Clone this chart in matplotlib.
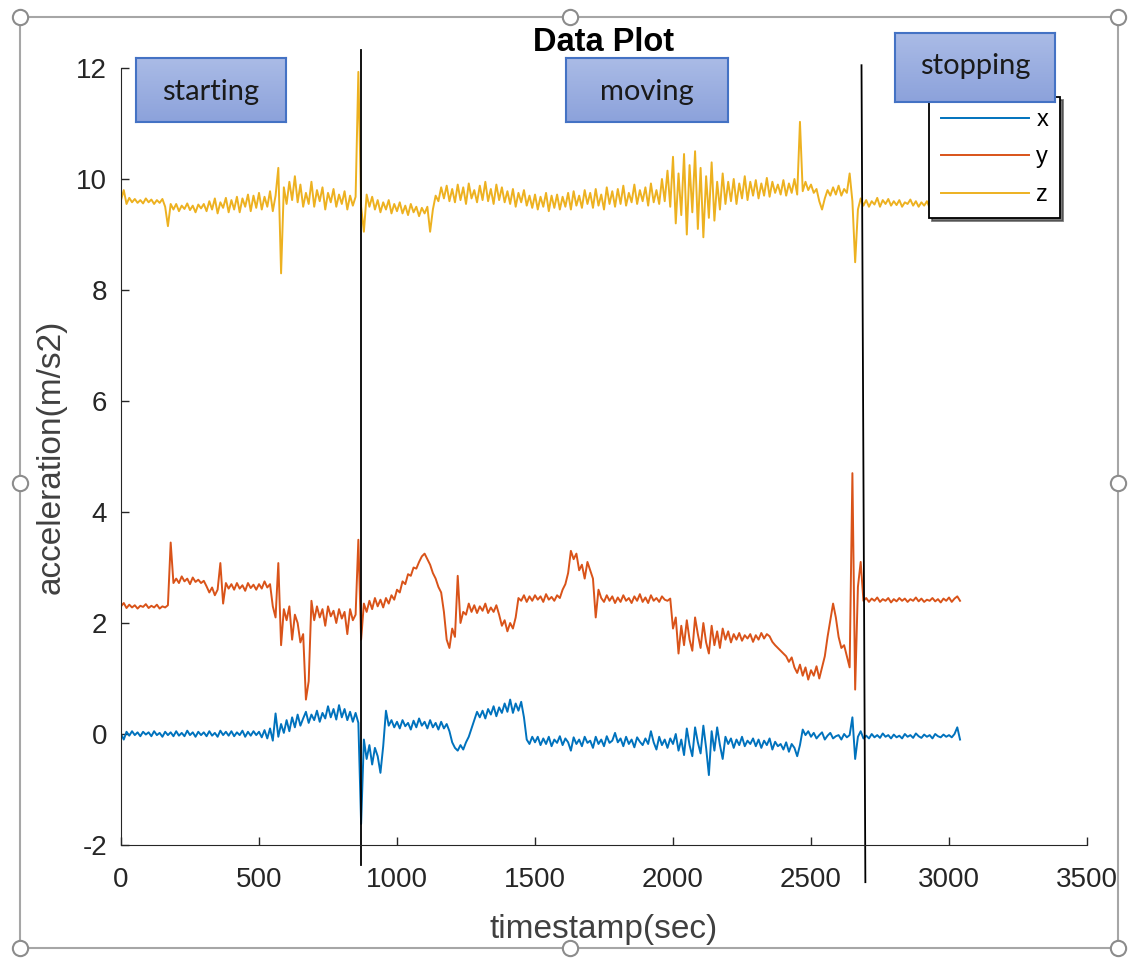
import numpy as np
import matplotlib
matplotlib.use("Agg")
import matplotlib.pyplot as plt
from matplotlib.lines import Line2D
from matplotlib.patches import Rectangle

plt.rcParams["font.family"] = ["Liberation Sans", "DejaVu Sans"]
plt.rcParams["axes.unicode_minus"] = False

# sampled every 10 s, one row = 100 s
acc_x = [0.00, -0.10, 0.04, -0.03, 0.05, -0.02, 0.03, -0.04, 0.04, -0.01,
         0.03, -0.04, 0.05, -0.02, 0.02, -0.05, 0.04, -0.02, 0.03, -0.04,
         0.05, -0.03, 0.02, -0.04, 0.06, -0.02, 0.03, -0.05, 0.04, -0.02,
         0.03, -0.04, 0.05, -0.03, 0.02, -0.05, 0.06, -0.02, 0.04, -0.03,
         0.05, -0.04, 0.03, -0.02, 0.06, -0.05, 0.04, -0.03, 0.05, -0.02,
         0.04, -0.06, 0.07, -0.08, 0.10, -0.12, 0.37, -0.05, 0.18, 0.02,
         0.25, 0.05, 0.30, 0.12, 0.35, 0.15, 0.28, 0.40, 0.20, 0.35,
         0.25, 0.42, 0.22, 0.38, 0.28, 0.50, 0.30, 0.45, 0.26, 0.52,
         0.30, 0.45, 0.25, 0.40, 0.22, 0.38, 0.20, -1.62, -0.10, -0.45,
         -0.20, -0.55, -0.25, -0.40, -0.70, -0.22, 0.42, 0.15, 0.25, 0.12,
         0.22, 0.10, 0.25, 0.14, 0.20, 0.08, 0.24, 0.12, 0.28, 0.15,
         0.22, 0.10, 0.25, 0.12, 0.20, 0.08, 0.22, 0.10, 0.18, 0.05,
         -0.15, -0.25, -0.30, -0.20, -0.28, -0.15, -0.05, 0.10, 0.25, 0.40,
         0.30, 0.42, 0.28, 0.45, 0.35, 0.50, 0.32, 0.48, 0.38, 0.55,
         0.40, 0.62, 0.38, 0.55, 0.42, 0.58, 0.30, -0.10, -0.18, -0.05,
         -0.15, -0.05, -0.20, -0.08, -0.18, -0.05, -0.22, -0.10, -0.16, -0.04,
         -0.20, -0.08, -0.15, -0.30, -0.06, -0.18, -0.10, -0.22, -0.05, -0.16,
         -0.12, -0.25, -0.05, -0.18, -0.10, -0.22, -0.04, -0.16, -0.12, 0.02,
         -0.15, -0.08, -0.22, -0.05, -0.18, -0.10, -0.24, -0.06, -0.14, -0.20,
         -0.08, -0.18, 0.05, -0.15, -0.28, -0.05, -0.20, -0.10, -0.25, -0.08,
         -0.18, 0.00, -0.30, -0.10, -0.38, 0.10, -0.20, -0.40, 0.12, -0.15,
         -0.35, 0.15, -0.25, -0.74, 0.05, -0.30, 0.12, -0.20, -0.45, -0.05,
         -0.18, -0.08, -0.25, -0.10, -0.20, -0.05, -0.22, -0.12, -0.18, -0.08,
         -0.22, -0.10, -0.25, -0.12, -0.20, -0.08, -0.28, -0.14, -0.22, -0.18,
         -0.28, -0.15, -0.32, -0.18, -0.25, -0.40, -0.20, 0.08, -0.02, 0.05,
         -0.05, 0.02, -0.08, -0.02, 0.03, -0.10, -0.03, 0.02, -0.08, -0.04,
         -0.02, -0.10, 0.00, -0.06, -0.02, 0.30, -0.45, -0.05, 0.05, -0.08,
         -0.03, -0.08, 0.00, -0.06, -0.02, -0.07, 0.01, -0.05, -0.02, -0.08,
         -0.01, -0.06, -0.03, -0.08, 0.00, -0.05, -0.02, -0.07, 0.01, -0.04,
         -0.07, -0.01, -0.05, -0.02, -0.08, 0.00, -0.04, -0.06, -0.01, -0.05,
         -0.02, -0.06, 0.00, 0.12, -0.10]

acc_y = [2.30, 2.36, 2.27, 2.33, 2.28, 2.32, 2.26, 2.31, 2.29, 2.34,
         2.27, 2.31, 2.28, 2.33, 2.26, 2.30, 2.28, 2.32, 3.45, 2.72,
         2.80, 2.72, 2.84, 2.75, 2.80, 2.70, 2.82, 2.74, 2.78, 2.72,
         2.76, 2.66, 2.55, 2.64, 2.50, 2.60, 3.08, 2.35, 2.72, 2.62,
         2.70, 2.60, 2.72, 2.62, 2.68, 2.58, 2.72, 2.63, 2.69, 2.60,
         2.70, 2.62, 2.75, 2.64, 2.70, 2.30, 2.10, 3.08, 1.60, 2.25,
         2.05, 2.30, 1.70, 2.15, 2.00, 1.65, 1.80, 0.62, 0.95, 2.40,
         2.05, 2.30, 2.10, 2.25, 1.95, 2.30, 2.12, 2.22, 2.00, 2.25,
         2.08, 2.20, 1.80, 2.25, 2.05, 2.15, 3.50, 1.70, 2.35, 2.20,
         2.40, 2.25, 2.45, 2.30, 2.42, 2.28, 2.45, 2.35, 2.50, 2.42,
         2.60, 2.55, 2.75, 2.70, 2.88, 2.85, 3.00, 2.98, 3.10, 3.20,
         3.25, 3.15, 3.05, 2.90, 2.80, 2.65, 2.55, 2.20, 1.70, 1.55,
         1.90, 1.75, 2.85, 2.00, 2.20, 2.15, 2.35, 2.20, 2.32, 2.18,
         2.30, 2.22, 2.35, 2.18, 2.28, 2.20, 2.32, 2.15, 1.95, 2.05,
         1.85, 2.00, 1.90, 2.10, 2.45, 2.40, 2.50, 2.38, 2.48, 2.40,
         2.50, 2.42, 2.48, 2.38, 2.52, 2.42, 2.47, 2.40, 2.50, 2.45,
         2.60, 2.70, 2.90, 3.30, 3.15, 3.25, 2.95, 3.05, 2.80, 3.10,
         2.95, 2.80, 2.10, 2.60, 2.45, 2.38, 2.50, 2.40, 2.48, 2.36,
         2.46, 2.38, 2.50, 2.40, 2.45, 2.36, 2.48, 2.40, 2.52, 2.38,
         2.46, 2.36, 2.50, 2.40, 2.45, 2.38, 2.48, 2.42, 2.40, 2.44,
         1.90, 2.10, 1.45, 1.95, 1.60, 2.05, 1.70, 1.50, 2.10, 1.80,
         1.55, 2.00, 1.65, 1.45, 1.95, 1.60, 1.85, 1.55, 1.90, 1.70,
         1.85, 1.65, 1.80, 1.70, 1.82, 1.68, 1.78, 1.72, 1.80, 1.66,
         1.78, 1.70, 1.82, 1.72, 1.80, 1.76, 1.66, 1.60, 1.55, 1.50,
         1.45, 1.40, 1.30, 1.38, 1.20, 1.10, 1.25, 1.05, 1.20, 0.98,
         1.15, 1.05, 1.22, 1.00, 1.20, 1.40, 1.75, 2.05, 2.35, 2.10,
         1.75, 1.55, 1.60, 1.40, 1.20, 4.70, 0.80, 2.65, 3.10, 2.40,
         2.45, 2.38, 2.44, 2.40, 2.46, 2.38, 2.43, 2.40, 2.45, 2.37,
         2.43, 2.39, 2.45, 2.40, 2.44, 2.38, 2.43, 2.40, 2.46, 2.39,
         2.44, 2.38, 2.42, 2.40, 2.45, 2.39, 2.43, 2.37, 2.44, 2.40,
         2.46, 2.38, 2.44, 2.48, 2.40]

acc_z = [9.62, 9.80, 9.55, 9.66, 9.58, 9.64, 9.57, 9.62, 9.56, 9.65,
         9.58, 9.63, 9.55, 9.62, 9.57, 9.64, 9.50, 9.15, 9.55, 9.45,
         9.55, 9.42, 9.52, 9.46, 9.56, 9.44, 9.52, 9.40, 9.54, 9.47,
         9.55, 9.42, 9.60, 9.45, 9.65, 9.38, 9.58, 9.48, 9.66, 9.40,
         9.62, 9.45, 9.68, 9.40, 9.65, 9.50, 9.72, 9.42, 9.70, 9.48,
         9.75, 9.45, 9.68, 9.50, 9.78, 9.42, 9.70, 10.20, 8.30, 9.85,
         9.55, 9.95, 9.62, 10.05, 9.58, 9.90, 9.50, 9.75, 9.55, 9.95,
         9.50, 9.80, 9.60, 9.85, 9.45, 9.75, 9.58, 9.82, 9.50, 9.72,
         9.55, 9.78, 9.45, 9.70, 9.52, 9.68, 11.93, 9.50, 9.05, 9.72,
         9.50, 9.68, 9.45, 9.62, 9.40, 9.58, 9.45, 9.62, 9.38, 9.55,
         9.42, 9.58, 9.38, 9.52, 9.35, 9.55, 9.40, 9.50, 9.33, 9.48,
         9.38, 9.50, 9.05, 9.45, 9.70, 9.60, 9.85, 9.65, 9.88, 9.60,
         9.82, 9.58, 9.90, 9.62, 9.85, 9.55, 9.92, 9.65, 9.80, 9.58,
         9.88, 9.62, 9.95, 9.60, 9.82, 9.55, 9.90, 9.62, 9.85, 9.58,
         9.78, 9.55, 9.82, 9.50, 9.75, 9.58, 9.80, 9.52, 9.70, 9.48,
         9.72, 9.45, 9.68, 9.50, 9.75, 9.42, 9.70, 9.48, 9.72, 9.45,
         9.68, 9.50, 9.75, 9.45, 9.78, 9.52, 9.70, 9.48, 9.80, 9.55,
         9.75, 9.48, 9.82, 9.52, 9.72, 9.45, 9.85, 9.55, 9.78, 9.50,
         9.82, 9.55, 9.88, 9.52, 9.75, 9.58, 9.90, 9.55, 9.80, 9.60,
         9.85, 9.52, 9.92, 9.58, 9.80, 9.55, 10.00, 9.60, 10.15, 9.50,
         10.40, 9.20, 10.10, 9.35, 10.45, 9.00, 10.25, 9.40, 10.50, 9.10,
         10.20, 8.95, 10.05, 9.30, 10.30, 9.25, 9.95, 9.45, 10.10, 9.55,
         9.95, 9.60, 10.00, 9.55, 9.92, 9.65, 10.05, 9.62, 9.95, 9.70,
         9.98, 9.65, 9.92, 9.70, 10.02, 9.68, 9.95, 9.75, 9.90, 9.72,
         9.98, 9.70, 9.92, 9.75, 10.00, 9.72, 11.03, 9.78, 9.95, 9.80,
         9.90, 9.75, 9.82, 9.60, 9.45, 9.65, 9.80, 9.70, 9.85, 9.72,
         9.88, 9.70, 9.82, 9.75, 10.10, 9.60, 8.50, 9.45, 9.65, 9.52,
         9.62, 9.50, 9.60, 9.54, 9.66, 9.50, 9.62, 9.55, 9.64, 9.52,
         9.60, 9.53, 9.62, 9.50, 9.58, 9.55, 9.63, 9.52, 9.60, 9.50,
         9.58, 9.52, 9.60, 9.48, 9.56, 9.50, 9.58, 9.45, 9.55, 9.50,
         9.52, 9.45, 9.55, 9.30, 9.50]

t = np.arange(len(acc_x)) * 10

phase_names = ["starting", "moving", "stopping"]
phase_marks = [870, 2690]

fig = plt.figure(figsize=(11.34, 9.65), dpi=100)
W, H = 1134, 965
ax = fig.add_axes([121 / W, 1 - 845 / H, (1087 - 121) / W, (845 - 68) / H])

ax.plot(t, acc_x, color="#0072BD", lw=1.4, label="x")
ax.plot(t, acc_y, color="#D95319", lw=1.4, label="y")
ax.plot(t, acc_z, color="#EDB120", lw=1.4, label="z")

# phase separators
ax.plot([phase_marks[0], phase_marks[0]], [12.32, -2.36], color="black", lw=1.3, clip_on=False)
ax.plot([phase_marks[1] - 7, phase_marks[1] + 7], [12.05, -2.67], color="black", lw=1.3, clip_on=False)

ax.set_xlim(0, 3500)
ax.set_ylim(-2, 12)
ax.set_xticks(range(0, 3501, 500))
ax.set_yticks(range(-2, 13, 2))
for s in ["top", "right"]:
    ax.spines[s].set_visible(False)
for s in ["left", "bottom"]:
    ax.spines[s].set_color("#262626")
ax.tick_params(direction="in", length=6, width=1, colors="#262626", labelsize=20)
ax.tick_params(axis="x", pad=16)
ax.tick_params(axis="y", pad=10)

ax.set_title("Data Plot", fontsize=23.5, fontweight="bold", pad=12)
ax.set_xlabel("timestamp(sec)", fontsize=24, color="#404040", labelpad=15)
ax.set_ylabel("acceleration(m/s2)", fontsize=24, color="#404040", labelpad=7)

leg = ax.legend(loc="upper left", bbox_to_anchor=(929 / W, 1 - 97 / H),
                bbox_transform=fig.transFigure, frameon=True, fancybox=False,
                edgecolor="black", fontsize=17, handlelength=3.75,
                labelspacing=0.66, borderpad=0.5, handletextpad=0.3, borderaxespad=0,
                shadow={"color": "#404040", "alpha": 0.7})
leg.get_frame().set_linewidth(1.3)

# labelled phase boxes
grad = np.linspace(0, 1, 50).reshape(-1, 1)
cmap = matplotlib.colors.LinearSegmentedColormap.from_list("box", ["#aabbe6", "#8ca2db"])
boxes = [(136, 58, 286, 122), (566, 58, 728, 122), (895, 33, 1055, 102)]
for name, (x0, y0, x1, y1) in zip(phase_names, boxes):
    bax = fig.add_axes([x0 / W, 1 - y1 / H, (x1 - x0) / W, (y1 - y0) / H])
    bax.imshow(grad, cmap=cmap, aspect="auto", extent=[0, 1, 0, 1])
    bax.set_xticks([])
    bax.set_yticks([])
    for sp in bax.spines.values():
        sp.set_color("#4472C4")
        sp.set_linewidth(1.5)
    bax.text(0.5, 0.47 if name != "stopping" else 0.52, name, ha="center", va="center",
             fontsize=21, family="Lato", color="#1a1a1a")

# selection frame around the picture
fig.add_artist(Rectangle((20 / W, 1 - 948 / H), 1098 / W, 931 / H, transform=fig.transFigure,
                         fill=False, edgecolor="#a6a6a6", lw=1.5))
handles = [(20, 17), (570, 17), (1118, 17), (20, 483), (1118, 483), (20, 948), (570, 948), (1118, 948)]
for hx, hy in handles:
    fig.add_artist(Line2D([hx / W], [1 - hy / H], transform=fig.transFigure, marker="o",
                          ms=11, mfc="white", mec="#8c8c8c", mew=1.5))

fig.savefig("out.png", dpi=100)
